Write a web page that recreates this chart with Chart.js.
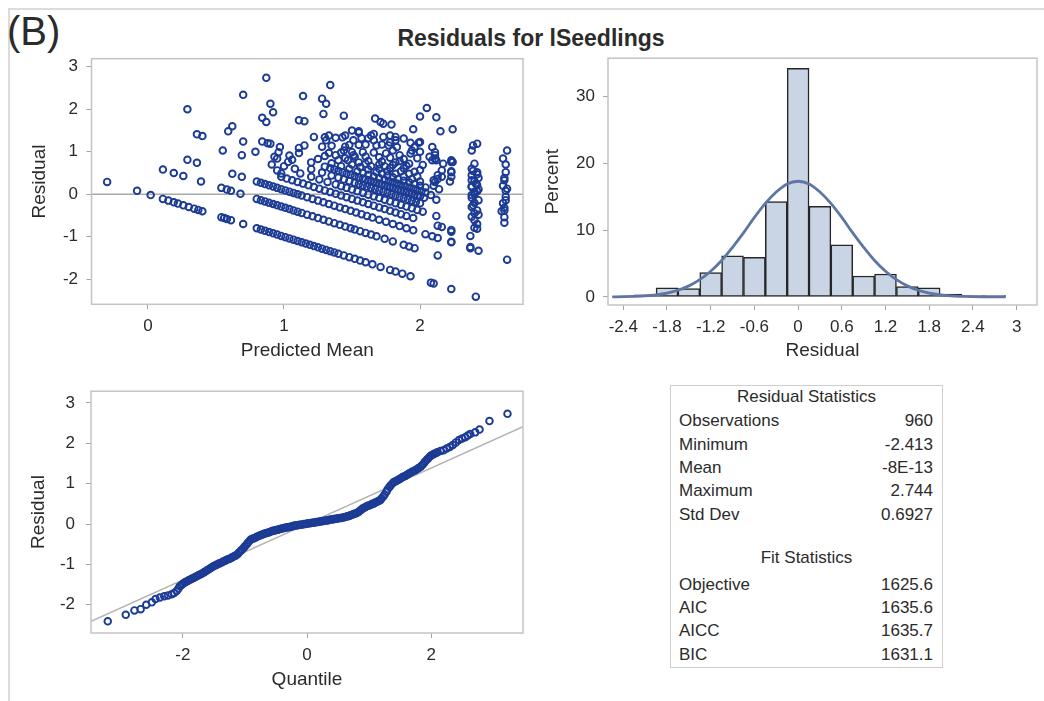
<!DOCTYPE html>
<html>
<head>
<meta charset="utf-8">
<title>Residuals for lSeedlings</title>
<script src="https://cdn.jsdelivr.net/npm/chart.js@4.4.1/dist/chart.umd.min.js"></script>
<style>
  html, body { margin: 0; padding: 0; background: #fff; }
  #page { position: relative; width: 1044px; height: 701px; overflow: hidden;
          font-family: "Liberation Sans", Arial, sans-serif; color: #2b2b2b; }
  #edge { position: absolute; left: 8px; top: 8px; width: 1100px; height: 760px;
          border-top: 2px solid #dcdcdc; border-left: 2px solid #dcdcdc; }
  canvas { position: absolute; }
  #tag { position: absolute; left: 7px; top: 11px; font-size: 40px; line-height: 40px; }
  #title { position: absolute; left: 0; width: 1062px; top: 27px; text-align: center;
           font-weight: bold; font-size: 23px; line-height: 23px; }
  #stats { position: absolute; left: 670px; top: 385px; width: 271px; height: 281px;
           border: 1.5px solid #cfcfcf; font-size: 17px; }
  #stats .row { position: absolute; left: 8px; right: 9px; height: 20px; line-height: 20px; white-space: nowrap; }
  #stats .row .v { position: absolute; right: 0; top: 0; }
  #stats .head { position: absolute; left: 0; right: 0; text-align: center; height: 20px; line-height: 20px; }
</style>
</head>
<body>
<div id="page">
  <div id="edge"></div>
  <div id="tag">(B)</div>
  <div id="title">Residuals for lSeedlings</div>
  <canvas id="fitPlot" width="540" height="340" style="left:0;top:40px"></canvas>
  <canvas id="histPlot" width="504" height="340" style="left:540px;top:40px"></canvas>
  <canvas id="qqPlot" width="540" height="331" style="left:0;top:370px"></canvas>
  <div id="stats"></div>
</div>
<script>
// ---- residual vs predicted mean: [predicted mean, residual] ----
const fitResiduals = [
  [-0.30,0.29],[-0.08,0.08],[0.02,-0.02],[0.11,-0.11],[0.15,-0.15],[0.19,-0.19],[0.22,-0.22],[0.26,-0.26],[0.30,-0.30],[0.34,-0.34],[0.37,-0.37],[0.40,-0.40],
  [0.54,-0.54],[0.56,-0.56],[0.58,-0.58],[0.61,-0.61],[0.70,-0.70],[0.80,-0.80],[0.83,-0.83],[0.86,-0.86],[0.89,-0.89],[0.92,-0.92],[0.95,-0.95],[0.98,-0.98],
  [1.01,-1.01],[1.04,-1.04],[1.07,-1.07],[1.10,-1.10],[1.13,-1.13],[1.16,-1.16],[1.19,-1.19],[1.22,-1.22],[1.25,-1.25],[1.28,-1.28],[1.31,-1.31],[1.34,-1.34],
  [1.37,-1.37],[1.40,-1.40],[1.44,-1.44],[1.48,-1.48],[1.52,-1.52],[1.56,-1.56],[1.60,-1.60],[1.65,-1.65],[1.71,-1.71],[1.78,-1.78],[1.82,-1.82],[1.87,-1.87],
  [1.93,-1.93],[2.08,-2.08],[2.10,-2.10],[2.23,-2.23],[2.41,-2.41],

  [0.11,0.58],[0.19,0.50],[0.26,0.43],[0.39,0.30],[0.54,0.15],[0.58,0.11],[0.61,0.08],[0.68,0.01],[0.80,-0.11],[0.83,-0.14],[0.86,-0.17],[0.89,-0.20],
  [0.92,-0.23],[0.95,-0.26],[0.98,-0.29],[1.01,-0.32],[1.04,-0.35],[1.07,-0.38],[1.10,-0.41],[1.13,-0.44],[1.17,-0.48],[1.21,-0.52],[1.25,-0.56],[1.29,-0.60],
  [1.33,-0.64],[1.37,-0.68],[1.41,-0.72],[1.45,-0.76],[1.49,-0.80],[1.52,-0.83],[1.56,-0.87],[1.60,-0.91],[1.64,-0.95],[1.68,-0.99],[1.74,-1.05],[1.80,-1.11],
  [1.88,-1.19],[1.92,-1.23],[1.96,-1.27],[2.13,-1.44],

  [0.29,0.81],[0.36,0.74],[0.62,0.48],[0.69,0.41],[0.80,0.30],[0.83,0.27],[0.86,0.24],[0.89,0.21],[0.92,0.18],[0.95,0.15],[0.98,0.12],[1.01,0.09],
  [1.04,0.06],[1.07,0.03],[1.10,0.00],[1.13,-0.03],[1.17,-0.07],[1.21,-0.11],[1.25,-0.15],[1.29,-0.19],[1.33,-0.23],[1.37,-0.27],[1.41,-0.31],[1.45,-0.35],
  [1.49,-0.39],[1.53,-0.43],[1.57,-0.47],[1.61,-0.51],[1.65,-0.55],[1.70,-0.60],[1.75,-0.65],[1.80,-0.70],[1.85,-0.75],[1.90,-0.80],[1.95,-0.85],[2.04,-0.94],
  [2.09,-0.99],[2.13,-1.03],[2.23,-1.13],[2.37,-1.27],[2.43,-1.33],[2.64,-1.54],

  [0.98,0.41],[1.02,0.37],[1.06,0.33],[1.10,0.29],[1.14,0.25],[1.18,0.21],[1.22,0.17],[1.26,0.13],[1.30,0.09],[1.34,0.05],[1.38,0.01],[1.42,-0.03],
  [1.46,-0.07],[1.50,-0.11],[1.54,-0.15],[1.58,-0.19],[1.62,-0.23],[1.66,-0.27],[1.70,-0.31],[1.74,-0.35],[1.78,-0.39],[1.82,-0.43],[1.86,-0.47],[1.90,-0.51],
  [1.95,-0.56],[2.13,-0.74],[2.16,-0.77],[2.23,-0.84],[2.37,-0.98],

  [0.69,0.92],[0.91,0.70],[1.12,0.49],[1.20,0.41],[1.26,0.35],[1.32,0.29],[1.38,0.23],[1.42,0.19],[1.46,0.15],[1.50,0.11],[1.54,0.07],[1.58,0.03],
  [1.62,-0.01],[1.66,-0.05],[1.70,-0.09],[1.74,-0.13],[1.78,-0.17],[1.82,-0.21],[1.86,-0.25],[1.90,-0.29],[1.94,-0.33],[1.98,-0.37],[2.02,-0.41],[2.12,-0.51],
  [2.40,-0.79],[2.42,-0.81],

  [0.79,1.00],[0.95,0.84],[1.03,0.76],[1.20,0.59],[1.28,0.51],[1.35,0.44],[1.40,0.39],[1.44,0.35],[1.48,0.31],[1.52,0.27],[1.55,0.24],[1.58,0.21],
  [1.61,0.18],[1.64,0.15],[1.67,0.12],[1.70,0.09],[1.73,0.06],[1.76,0.03],[1.79,0.00],[1.82,-0.03],[1.85,-0.06],[1.88,-0.09],[1.91,-0.12],[1.94,-0.15],
  [1.97,-0.18],[2.00,-0.21],[2.40,-0.61],

  [0.96,0.99],[1.04,0.91],[1.20,0.75],[1.30,0.65],[1.34,0.61],[1.37,0.58],[1.40,0.55],[1.43,0.52],[1.46,0.49],[1.49,0.46],[1.52,0.43],[1.55,0.40],
  [1.58,0.37],[1.60,0.35],[1.62,0.33],[1.64,0.31],[1.66,0.29],[1.68,0.27],[1.70,0.25],[1.72,0.23],[1.74,0.21],[1.76,0.19],[1.78,0.17],[1.80,0.15],
  [1.82,0.13],[1.84,0.11],[1.86,0.09],[1.88,0.07],[1.90,0.05],[1.92,0.03],[1.94,0.01],[1.96,-0.01],[1.98,-0.03],[2.00,-0.05],[2.03,-0.08],[2.40,-0.45],
  [2.43,-0.48],[2.62,-0.67],

  [0.84,1.24],[0.88,1.20],[0.97,1.11],[1.11,0.97],[1.25,0.83],[1.35,0.73],[1.42,0.66],[1.48,0.60],[1.54,0.54],[1.58,0.50],[1.62,0.46],[1.66,0.42],
  [1.70,0.38],[1.74,0.34],[1.77,0.31],[1.80,0.28],[1.83,0.25],[1.86,0.22],[1.89,0.19],[1.92,0.16],[1.95,0.13],[1.98,0.10],[2.01,0.07],[2.04,0.04],
  [2.38,-0.30],[2.62,-0.54],

  [1.11,1.09],[1.30,0.90],[1.40,0.80],[1.50,0.70],[1.56,0.64],[1.62,0.58],[1.68,0.52],[1.72,0.48],[1.76,0.44],[1.80,0.40],[1.84,0.36],[1.88,0.32],
  [1.92,0.28],[1.96,0.24],[2.00,0.20],[2.04,0.16],[2.40,-0.20],[2.60,-0.40],

  [1.15,1.15],[1.33,0.97],[1.45,0.85],[1.55,0.75],[1.64,0.66],[1.70,0.60],[1.76,0.54],[1.82,0.48],[1.88,0.42],[1.94,0.36],[2.00,0.30],[2.10,0.20],
  [2.38,-0.08],[2.62,-0.32],

  [1.28,1.12],[1.42,0.98],[1.52,0.88],[1.62,0.78],[1.70,0.70],[1.78,0.62],[1.86,0.54],[1.92,0.48],[1.98,0.42],[2.11,0.29],[2.40,0.00],[2.61,-0.21],
  [1.35,1.14],[1.50,0.99],[1.60,0.89],[1.72,0.77],[1.80,0.69],[1.88,0.61],[1.96,0.53],[2.13,0.36],[2.42,0.07],
  [1.22,1.35],[1.45,1.12],[1.58,0.99],[1.70,0.87],[1.82,0.75],[1.90,0.67],[2.00,0.57],[2.16,0.41],[2.38,0.19],[2.63,-0.06],
  [1.30,1.34],[1.48,1.16],[1.66,0.98],[1.78,0.86],[1.92,0.72],[2.23,0.41],[2.42,0.22],
  [1.38,1.33],[1.55,1.16],[1.75,0.96],[1.88,0.83],[2.02,0.69],[2.40,0.31],[2.63,0.08],
  [1.43,1.34],[1.60,1.17],[1.85,0.92],[2.23,0.54],[2.64,0.13],
  [1.45,1.38],[1.68,1.15],[1.80,1.03],[1.98,0.85],[2.38,0.45],
  [1.57,1.32],[1.72,1.17],[1.93,0.96],[2.09,0.80],[2.42,0.47],
  [1.62,1.32],[1.83,1.11],[2.11,0.83],[2.39,0.55],
  [1.55,1.45],[1.78,1.22],[2.00,1.00],[2.24,0.76],[2.62,0.38],

  [0.87,2.74],[0.70,2.34],[0.29,2.00],[0.90,2.13],[0.92,1.93],[0.84,1.80],[0.87,1.70],[1.14,2.31],[1.11,1.74],[0.62,1.60],[0.59,1.48],[0.36,1.41],
  [0.40,1.37],[0.70,1.24],[0.55,1.03],[0.90,1.19],[0.98,0.49],[1.08,0.60],[0.95,0.56],[1.00,0.66],[1.06,0.81],[0.93,0.88],
  [1.34,2.57],[1.28,2.25],[1.31,2.13],[1.29,1.89],[1.44,1.85],[1.15,1.72],[2.05,2.03],[2.00,1.83],[2.12,1.81],[1.67,1.78],[1.71,1.70],[1.73,1.66],
  [1.79,1.64],[1.95,1.53],[2.15,1.48],[2.24,1.53],[1.50,1.50],[1.55,1.48],[1.51,1.27],[1.33,1.38],[1.31,1.27],[1.64,1.38],[1.66,1.27],[1.78,1.38],
  [1.82,1.35],[1.88,1.31],[1.93,1.21],[1.99,1.21],[1.66,1.42],[1.73,1.35],[1.82,1.27],[1.77,1.15],[1.94,1.03],[2.00,1.23],[1.96,1.11],[1.44,1.03],
  [1.51,0.92],[1.38,0.92],[1.47,0.80],[1.60,0.72],[1.74,0.66],[1.85,0.78],
  [2.09,1.11],[2.11,0.99],[2.07,0.88],[2.12,0.80],[2.17,0.72],[2.16,0.56],[2.11,0.92],[2.13,0.45],[2.10,0.33],[2.14,0.12],[2.08,-0.02],[2.12,-0.13],
  [2.23,0.80],[2.23,0.76],[2.23,0.52],[2.22,0.30],[2.23,-0.88],[2.23,-1.12],
  [2.42,1.19],[2.39,1.15],[2.38,1.03],[2.40,0.72],[2.38,0.60],[2.42,0.52],[2.43,0.38],[2.38,0.33],[2.41,0.25],[2.38,0.17],[2.43,0.12],[2.40,0.05],
  [2.38,-0.02],[2.43,-0.14],[2.39,-0.26],[2.42,-0.38],[2.38,-0.53],[2.42,-0.70],[2.37,-1.24],
  [2.64,1.03],[2.61,0.84],[2.63,0.70],[2.63,0.52],[2.62,0.33],[2.61,0.20],[2.63,-0.14],[2.62,-0.38]
];

// ---- residual histogram (percent per 0.3-wide bin, by bin midpoint) ----
const binMidpoints = [-2.4,-2.1,-1.8,-1.5,-1.2,-0.9,-0.6,-0.3,0,0.3,0.6,0.9,1.2,1.5,1.8,2.1,2.4,2.7];
const binPercents  = [0.10,0.31,1.35,1.25,3.65,6.15,5.94,14.27,34.17,13.54,7.81,3.13,3.44,1.56,1.35,0.42,0.21,0.21];

// ---- normal density overlay (percent scale) ----
const densityX = [-2.55,-2.4,-2.25,-2.1,-1.95,-1.8,-1.65,-1.5,-1.35,-1.2,-1.05,-0.9,-0.75,-0.6,-0.45,-0.3,-0.15,0,
                  0.15,0.3,0.45,0.6,0.75,0.9,1.05,1.2,1.35,1.5,1.65,1.8,1.95,2.1,2.25,2.4,2.55,2.7,2.85];
const densityY = [0.02,0.04,0.09,0.17,0.33,0.59,1.00,1.66,2.60,3.85,5.45,7.43,9.58,11.9,14.0,15.7,16.9,17.3,
                  16.9,15.7,14.0,11.9,9.58,7.43,5.45,3.85,2.60,1.66,1.00,0.59,0.33,0.17,0.09,0.04,0.02,0.01,0.00];

// ---- normal quantile plot: [normal quantile, residual] ----
const quantileResiduals = [
  [-3.21,-2.41],[-2.92,-2.25],[-2.78,-2.14],[-2.68,-2.11],[-2.59,-2.00],[-2.50,-1.94],[-2.44,-1.86],[-2.37,-1.82],[-2.30,-1.79],[-2.24,-1.77],
  [-2.18,-1.74],[-2.14,-1.71],
  [-2.10,-1.66],[-2.07,-1.60],[-2.05,-1.54],[-2.02,-1.51],[-2.00,-1.48],[-1.97,-1.45],[-1.95,-1.43],[-1.92,-1.41],[-1.90,-1.39],[-1.87,-1.37],
  [-1.85,-1.35],[-1.82,-1.33],[-1.80,-1.31],[-1.77,-1.29],[-1.75,-1.27],[-1.72,-1.25],[-1.70,-1.23],[-1.67,-1.21],[-1.65,-1.19],[-1.62,-1.16],
  [-1.60,-1.14],[-1.57,-1.11],[-1.55,-1.09],[-1.52,-1.06],[-1.50,-1.04],[-1.47,-1.02],[-1.45,-1.00],[-1.42,-0.98],[-1.40,-0.97],[-1.37,-0.95],
  [-1.35,-0.93],[-1.32,-0.91],[-1.30,-0.89],[-1.27,-0.87],[-1.25,-0.86],[-1.22,-0.84],[-1.20,-0.82],[-1.17,-0.80],[-1.15,-0.78],[-1.12,-0.75],
  [-1.10,-0.71],[-1.07,-0.67],[-1.05,-0.64],[-1.02,-0.59],[-1.00,-0.55],[-0.97,-0.50],[-0.95,-0.46],[-0.92,-0.41],[-0.90,-0.38],[-0.87,-0.36],
  [-0.85,-0.35],[-0.82,-0.33],[-0.80,-0.31],[-0.77,-0.29],[-0.75,-0.28],[-0.72,-0.26],[-0.70,-0.25],[-0.67,-0.23],[-0.65,-0.22],[-0.62,-0.21],
  [-0.60,-0.20],[-0.57,-0.18],[-0.55,-0.17],[-0.52,-0.16],[-0.50,-0.15],[-0.47,-0.14],[-0.45,-0.13],[-0.42,-0.12],[-0.40,-0.11],[-0.37,-0.10],
  [-0.35,-0.09],[-0.32,-0.08],[-0.30,-0.08],[-0.27,-0.07],[-0.25,-0.06],[-0.22,-0.05],[-0.20,-0.04],[-0.17,-0.03],[-0.15,-0.03],[-0.12,-0.02],
  [-0.10,-0.02],[-0.07,-0.01],[-0.05,0.00],[-0.02,0.00],[0.00,0.01],[0.03,0.02],[0.05,0.02],[0.08,0.03],[0.10,0.03],[0.13,0.04],[0.15,0.05],
  [0.18,0.05],[0.20,0.06],[0.23,0.07],[0.25,0.07],[0.28,0.08],[0.30,0.09],[0.33,0.09],[0.35,0.10],[0.38,0.11],[0.40,0.11],[0.43,0.12],
  [0.45,0.13],[0.48,0.13],[0.50,0.14],[0.53,0.15],[0.55,0.15],[0.58,0.16],[0.60,0.17],[0.63,0.18],[0.65,0.19],[0.68,0.20],[0.70,0.22],
  [0.73,0.23],[0.75,0.25],[0.78,0.26],[0.80,0.27],[0.83,0.30],[0.85,0.33],[0.88,0.36],[0.90,0.39],[0.93,0.41],[0.95,0.43],[0.98,0.45],
  [1.00,0.46],[1.03,0.48],[1.05,0.50],[1.08,0.51],[1.10,0.53],[1.13,0.55],[1.15,0.57],[1.18,0.59],[1.20,0.63],[1.23,0.68],[1.25,0.73],
  [1.28,0.80],[1.30,0.86],[1.33,0.92],[1.35,0.96],[1.38,1.01],[1.40,1.04],[1.43,1.06],[1.45,1.08],[1.48,1.10],[1.50,1.12],[1.53,1.15],
  [1.55,1.17],[1.58,1.19],[1.60,1.21],[1.63,1.24],[1.65,1.26],[1.68,1.28],[1.70,1.30],[1.73,1.32],[1.75,1.34],[1.78,1.37],[1.80,1.39],
  [1.83,1.42],[1.85,1.45],[1.88,1.50],[1.90,1.54],[1.93,1.59],[1.95,1.62],[1.98,1.67],[2.00,1.70],[2.03,1.72],[2.05,1.74],[2.08,1.76],
  [2.10,1.78],[2.15,1.81],[2.20,1.83],[2.25,1.87],[2.30,1.91],[2.35,1.96],[2.40,2.02],[2.45,2.08],
  [2.50,2.12],[2.55,2.15],[2.59,2.19],[2.63,2.23],[2.71,2.27],[2.78,2.34],[2.94,2.55],[3.23,2.73]
];
// reference line through the quantile plot (slope = residual std dev)
const qqLineX = [-3.48, 3.48];
const qqLineY = [-2.41, 2.41];

// ---- summary tables ----
const residualStatLabels = ['Observations', 'Minimum', 'Mean', 'Maximum', 'Std Dev'];
const residualStatValues = ['960', '-2.413', '-8E-13', '2.744', '0.6927'];
const fitStatLabels = ['Objective', 'AIC', 'AICC', 'BIC'];
const fitStatValues = ['1625.6', '1635.6', '1635.7', '1631.1'];

// ================= drawing =================
const FONT = '"Liberation Sans", Arial, sans-serif';
const INK = '#2b2b2b';
const MARKER = '#1c3b95';

const plotFrame = {
  id: 'plotFrame',
  afterDatasetsDraw(chart) {
    const { ctx, chartArea: a } = chart;
    ctx.save();
    ctx.strokeStyle = '#c4c4c4';
    ctx.lineWidth = 1.5;
    ctx.strokeRect(a.left, a.top, a.right - a.left, a.bottom - a.top);
    ctx.restore();
  }
};

function linearAxis(cfg) {
  return {
    type: 'linear', min: cfg.min, max: cfg.max, offset: false,
    grid: { display: true, offset: false, drawOnChartArea: false, drawTicks: true,
            tickLength: 5, color: '#a3a3a3', lineWidth: 1 },
    border: { display: false },
    ticks: { stepSize: cfg.step, includeBounds: false, autoSkip: false, maxRotation: 0,
             padding: cfg.pad, color: INK, font: { family: FONT, size: 17 },
             callback: v => String(Math.round(v * 10) / 10) },
    title: { display: true, text: cfg.title, color: INK, font: { family: FONT, size: 19 },
             padding: cfg.titlePad },
    afterFit(scale) {
      if (scale.isHorizontal()) scale.height = cfg.size; else scale.width = cfg.size;
    }
  };
}

const baseOptions = (padding) => ({
  responsive: false, animation: false, devicePixelRatio: 1, events: [],
  layout: { padding, autoPadding: false },
  plugins: { legend: { display: false }, tooltip: { enabled: false } }
});

// residual vs predicted mean
const fitX = { min: -0.415, max: 2.757 };
new Chart(document.getElementById('fitPlot'), {
  type: 'scatter',
  data: {
    datasets: [
      { type: 'line', data: [{ x: fitX.min, y: 0 }, { x: fitX.max, y: 0 }],
        borderColor: '#a9a9a9', borderWidth: 1.5, pointRadius: 0, order: 2 },
      { data: fitResiduals.map(p => ({ x: p[0], y: p[1] })),
        pointStyle: 'circle', pointRadius: 3.3, pointBorderWidth: 1.9,
        pointBorderColor: MARKER, pointBackgroundColor: 'rgba(255,255,255,0)', order: 1 }
    ]
  },
  options: Object.assign(baseOptions({ top: 18.3, right: 17, left: 0, bottom: 0 }), {
    scales: {
      x: linearAxis({ min: fitX.min, max: fitX.max, step: 1, pad: 7, title: 'Predicted Mean',
                      titlePad: { top: 0, bottom: 17.6 }, size: 75.7 }),
      y: linearAxis({ min: -2.59, max: 3.19, step: 1, pad: 8.5, title: 'Residual',
                      titlePad: { top: 28.6, bottom: 0 }, size: 91.5 })
    }
  }),
  plugins: [plotFrame]
});

// histogram of residuals with density overlay
new Chart(document.getElementById('histPlot'), {
  type: 'bar',
  data: {
    datasets: [
      { type: 'line', data: densityX.map((x, i) => ({ x, y: densityY[i] })),
        borderColor: '#5d76a3', borderWidth: 2.8, pointRadius: 0,
        tension: 0.4, cubicInterpolationMode: 'monotone', order: 0 },
      { type: 'bar', data: binMidpoints.map((x, i) => ({ x, y: binPercents[i] })),
        backgroundColor: '#c9d4e4', borderColor: '#262626', borderWidth: 1.5,
        borderSkipped: false, barPercentage: 1, categoryPercentage: 1, grouped: false, order: 1 }
    ]
  },
  options: Object.assign(baseOptions({ top: 18, right: 7, left: 0, bottom: 0 }), {
    scales: {
      x: linearAxis({ min: -2.61, max: 3.28, step: 0.6, pad: 7, title: 'Residual',
                      titlePad: { top: 0, bottom: 17.6 }, size: 75 }),
      y: linearAxis({ min: -1.2, max: 35.7, step: 10, pad: 8, title: 'Percent',
                      titlePad: { top: 1.1, bottom: 0 }, size: 68 })
    }
  }),
  plugins: [plotFrame]
});

// normal quantile plot
new Chart(document.getElementById('qqPlot'), {
  type: 'scatter',
  data: {
    datasets: [
      { type: 'line', data: qqLineX.map((x, i) => ({ x, y: qqLineY[i] })),
        borderColor: '#b3b3b3', borderWidth: 1.5, pointRadius: 0, order: 2 },
      { data: quantileResiduals.map(p => ({ x: p[0], y: p[1] })),
        pointStyle: 'circle', pointRadius: 3.3, pointBorderWidth: 1.9,
        pointBorderColor: MARKER, pointBackgroundColor: 'rgba(255,255,255,0)', order: 1 }
    ]
  },
  options: Object.assign(baseOptions({ top: 15, right: 17, left: 0, bottom: 0 }), {
    scales: {
      x: linearAxis({ min: -3.48, max: 3.48, step: 2, pad: 7, title: 'Quantile',
                      titlePad: { top: 0, bottom: 10.1 }, size: 68 }),
      y: linearAxis({ min: -2.70, max: 3.29, step: 1, pad: 11, title: 'Residual',
                      titlePad: { top: 27.6, bottom: 0 }, size: 91 })
    }
  }),
  plugins: [plotFrame]
});

// statistics panel
(function buildStats() {
  const box = document.getElementById('stats');
  const rowH = 23.33;
  function head(text, cy) {
    const d = document.createElement('div');
    d.className = 'head'; d.textContent = text; d.style.top = (cy - 9.8) + 'px';
    box.appendChild(d);
  }
  function rows(labels, values, cy0) {
    labels.forEach((lab, i) => {
      const r = document.createElement('div');
      r.className = 'row'; r.style.top = (cy0 + i * rowH - 9.8) + 'px';
      const l = document.createElement('span'); l.textContent = lab;
      const v = document.createElement('span'); v.className = 'v'; v.textContent = values[i];
      r.appendChild(l); r.appendChild(v); box.appendChild(r);
    });
  }
  head('Residual Statistics', 10.5);
  rows(residualStatLabels, residualStatValues, 35.2);
  head('Fit Statistics', 171.8);
  rows(fitStatLabels, fitStatValues, 198.5);
})();
</script>
</body>
</html>
